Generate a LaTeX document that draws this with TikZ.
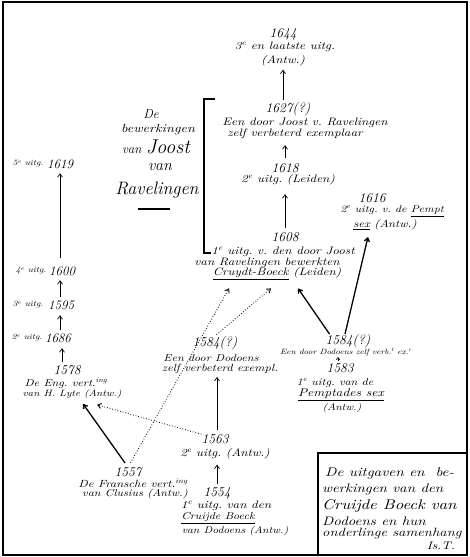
\documentclass[tikz,border=0pt]{standalone}
\usepackage{fontspec}
\newfontfamily\hand{lmroman10-italic.otf}[FakeStretch=1.2]
\usetikzlibrary{arrows.meta,calc}
\tikzset{
  hw/.style={inner sep=0pt, font=\hand\fontsize{#1}{#1}\selectfont},
  hw/.default=10.8,
  big/.style={inner sep=0pt, font=\itshape\fontsize{#1}{#1}\selectfont},
  yr/.style={big=13.5},
  arr/.style={-{Straight Barb[length=3.5pt,width=5pt]}, line width=0.7pt},
  arrthick/.style={arr, line width=1.3pt},
  dotarr/.style={arr, dotted, line width=0.9pt},
  frame/.style={line width=1.6pt},
}
\begin{document}
\frenchspacing
\begin{tikzpicture}[x=1pt,y=-1pt]
\useasboundingbox (0,0) rectangle (470,557);
\draw[frame] (3,2) rectangle (467,555);

% ---- top chain
\node[yr] (n1644) at (283,34) {1644};
\node[hw] (n1644a) at (285,47) {3\textsuperscript{e} en laatste uitg.};
\node[hw] (n1644b) at (283,61) {(Antw.)};
\node[yr] (n1627) at (288,109) {1627(?)};
\node[hw] (n1627a) at (305,123) {Een door Joost v. Ravelingen};
\node[hw] (n1627b) at (295,134) {zelf verbeterd exemplaar};
\node[yr] (n1618) at (285,168) {1618};
\node[hw] (n1618a) at (288,180) {2\textsuperscript{e} uitg. (Leiden)};
\node[yr] (n1608) at (285,237) {1608};
\node[hw] (n1608a) at (283,252) {1\textsuperscript{e} uitg. v. den door Joost};
\node[hw] (n1608b) at (267,263) {van Ravelingen bewerkten};
\node[hw] (n1608c) at (277,274) {\underline{Cruydt-Boeck} (Leiden)};

% ---- 1616
\node[yr] (n1616) at (372,198) {1616};
\node[hw=9.8] (n1616a) at (392,211) {2\textsuperscript{e} uitg. v. de \underline{Pempt}};
\node[hw=10.4] (n1616b) at (385,225) {\underline{sex} (Antw.)};

% ---- 1584 right / 1583
\node[yr] (n1584r) at (348,341) {1584(?)};
\node[hw=7.6] (n1584ra) at (346,352) {Een door Dodoens zelf verb.\textsuperscript{t} ex.\textsuperscript{r}};
\node[yr] (n1583) at (340,368) {1583};
\node[hw=10] (n1583a) at (335,383) {1\textsuperscript{e} uitg. van de};
\node[hw=11.2] (n1583b) at (341,395) {\underline{Pemptades sex}};
\node[hw=9.6] (n1583c) at (342,408) {(Antw.)};

% ---- 1584 middle
\node[yr] (n1584m) at (215,343) {1584(?)};
\node[hw=10] (n1584ma) at (211,358) {Een door Dodoens};
\node[hw=10.4] (n1584mb) at (220,369) {zelf verbeterd exempl.};

% ---- 1563 / 1554
\node[yr] (n1563) at (215,439) {1563};
\node[hw=10.8] (n1563a) at (225,454) {2\textsuperscript{e} uitg. (Antw.)};
\node[yr] (n1554) at (217,493) {1554};
\node[hw=10.8] (n1554a) at (226,506) {1\textsuperscript{e} uitg. van den};
\node[hw=10] (n1554b) at (218,518) {\underline{Cruijde Boeck}};
\node[hw=9.6] (n1554c) at (235,531) {van Dodoens (Antw.)};

% ---- 1557
\node[yr] (n1557) at (128,472) {1557};
\node[hw=10.4] (n1557a) at (133,483) {De Fransche vert.\textsuperscript{ing}};
\node[hw=10] (n1557b) at (135,494) {van Clusius (Antw.)};

% ---- 1578 and left column
\node[yr] (n1578) at (67,370) {1578};
\node[hw=10] (n1578a) at (66,383) {De Eng. vert.\textsuperscript{ing}};
\node[hw=9.2] (n1578b) at (72,394) {van H. Lyte (Antw.)};
\node[hw=8] (l1686) at (27,338) {2\textsuperscript{e} uitg.};
\node[big=13] (n1686) at (58,338) {1686};
\node[hw=8] (l1595) at (28,305) {3\textsuperscript{e} uitg.};
\node[big=13] (n1595) at (61,305) {1595};
\node[hw=8] (l1600) at (31,271) {4\textsuperscript{e} uitg.};
\node[big=13] (n1600) at (62,271) {1600};
\node[hw=8] (l1619) at (28,164) {5\textsuperscript{e} uitg.};
\node[big=13] (n1619) at (60,164) {1619};

% ---- title of the bracket
\node[big=13] (tDe) at (151,114) {De};
\node[hw=11.8] (tBew) at (158,130) {bewerkingen};
\node[big=13] (tJoost) at (156,147) {van {\fontsize{20}{20}\selectfont Joost}};
\node[big=16] (tVan) at (160,167) {van};
\node[big=18] (tRav) at (157,190) {Ravelingen};
\draw[line width=1.5pt] (138,209) -- (170,209);
\draw[line width=1.3pt] (215,99) -- (204,99) -- (204,253) -- (211,253);

% ---- legend
\draw[line width=1.2pt] (318,555) -- (318,453) -- (467,453);
\node[hw=12.6, anchor=west] (g1) at (325,473) {De uitgaven en \ be-};
\node[hw=12.4, anchor=west] (g2) at (322,489) {werkingen van den};
\node[hw=14, anchor=west] (g3) at (322,506) {Cruijde Boeck van};
\node[hw=12.4, anchor=west] (g4) at (322,521) {Dodoens en hun};
\node[hw=12, anchor=west] (g5) at (322,534) {onderlinge samenhang};
\node[hw=11, anchor=east] (g6) at (455,546) {Is.T.};

% ---- vertical arrows
\draw[arr, shorten <=2pt, shorten >=3pt] (n1627.north -| n1644b.south) -- (n1644b.south);
\draw[arr, shorten <=5.5pt, shorten >=6pt] (n1618.north) -- (n1618.north |- n1627b.south);
\draw[arr, shorten <=4.5pt, shorten >=8.5pt] (n1608.north) -- (n1608.north |- n1618a.south);
\draw[arr, shorten <=4.5pt, shorten >=3pt] (n1563.north -| n1554.north) -- (n1554.north |- n1584mb.south);
\draw[arr, shorten <=3.5pt, shorten >=5pt] (n1554.north) -- (n1554.north |- n1563a.south);
\draw[-{Straight Barb[length=2.5pt,width=4pt]}, line width=0.6pt, shorten <=2.5pt, shorten >=1pt] (n1583.north -| 338,0) -- (n1584ra.south -| 338,0);
\draw[arr, shorten <=8.5pt, shorten >=4.5pt] (n1600.north -| n1619) -- (n1619.south);
\draw[arr, shorten <=3.5pt, shorten >=4.5pt] (n1595.north -| n1619) -- (n1600.south -| n1619);
\draw[arr, shorten <=3.5pt, shorten >=5.5pt] (n1686.north -| n1619) -- (n1595.south -| n1619);
\draw[arr, shorten <=3.5pt, shorten >=5.5pt] (n1578.north -| 62,0) -- (n1686.south -| 62,0);

% ---- slanted arrows
\draw[arrthick, shorten <=5pt] (n1557.north) -- ($(n1578b.south)+(11,5)$);
\draw[dotarr, shorten <=5pt] (n1557.north) -- ($(n1608c.south)+(-48,8)$);
\draw[dotarr, shorten <=2pt] (n1584m.north) -- ($(n1608c.south)+(-6,8)$);
\draw[dotarr] (n1563.north west) -- ($(n1578b.south)+(25,6)$);
\draw[arrthick] ($(n1584r.north west)+(4,0)$) -- ($(n1608c.south)+(21,8)$);
\draw[arrthick] ($(n1584r.north)+(-3,0)$) -- ($(n1616b.south)+(-17,6.5)$);
\end{tikzpicture}
\end{document}
